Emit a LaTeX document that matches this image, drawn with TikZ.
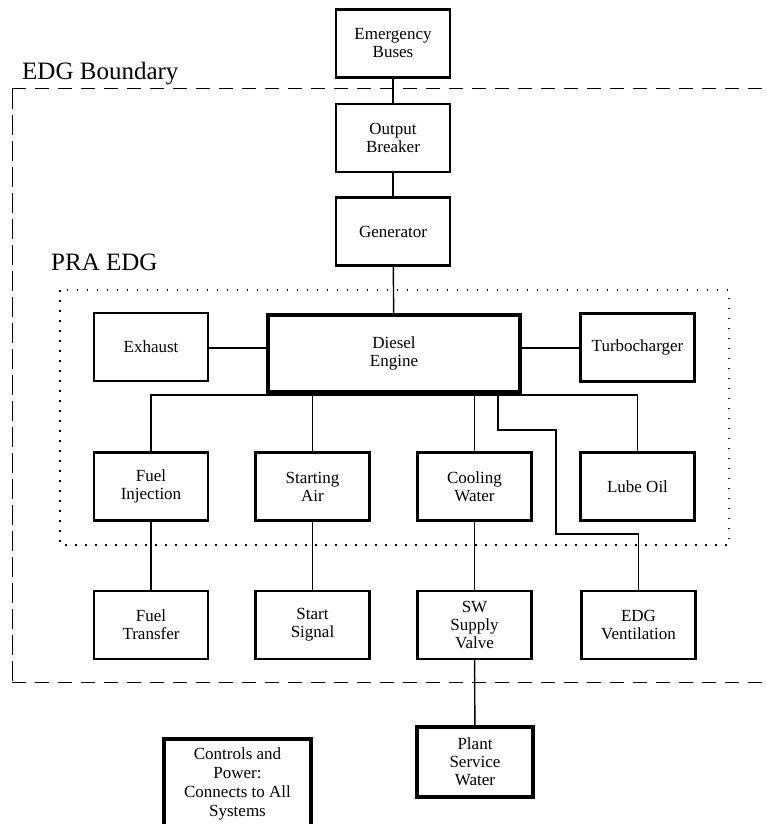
\documentclass[tikz,border=0pt]{standalone}
\usepackage{fontspec}
\setmainfont{Liberation Serif}
\begin{document}
\begin{tikzpicture}[x=1pt,y=-1pt,
  blk/.style={draw, line width=2.2pt, minimum width=114pt, minimum height=68pt, inner sep=0pt, align=center, font=\fontsize{17}{18}\selectfont},
  thk/.style={blk, line width=3.2pt},
  conn/.style={line width=1.4pt},
  bnd/.style={line width=1pt, dash pattern=on 14pt off 9pt},
  bndv/.style={line width=1pt, dash pattern=on 20pt off 6pt},
  pra/.style={line width=1.2pt, dash pattern=on 1.5pt off 8.5pt},
  lbl/.style={font=\fontsize{25}{28}\selectfont, anchor=base west, inner sep=0pt}]
\useasboundingbox (0,0) rectangle (767,824);
\clip (0,0) rectangle (767,824);
% boundaries
\draw[bnd] (12,89) -- (767,89);
\draw[bnd] (12,682) -- (767,682);
\draw[bndv] (12,89) -- (12,682);
\draw[pra] (60,290) rectangle (729,545);
\node[lbl] (lblEDG) at (22,80) {EDG Boundary};
\node[lbl] (lblPRA) at (51,270) {PRA EDG};
% nodes
\node[blk] (eb) at (393,43.5) {Emergency\\Buses};
\node[blk] (ob) at (393,138) {Output\\Breaker};
\node[blk] (gen) at (393,231.5) {Generator};
\node[thk, minimum width=252pt, minimum height=77pt] (de) at (394,353.5) {Diesel\\Engine};
\node[blk] (ex) at (151,347) {Exhaust};
\node[blk] (tc) at (637.5,347.5) {Turbocharger};
\node[blk] (fi) at (151,486.5) {Fuel\\Injection};
\node[blk] (sa) at (312.5,486.5) {Starting\\Air};
\node[blk] (cw) at (474.5,486.5) {Cooling\\Water};
\node[blk] (lo) at (637.5,486.5) {Lube Oil};
\node[blk] (ft) at (151,625) {Fuel\\Transfer};
\node[blk] (ss) at (312.5,625) {Start\\Signal};
\node[blk] (sv) at (474.5,625) {SW\\Supply\\Valve};
\node[blk] (ev) at (638.5,625) {EDG\\Ventilation};
\node[thk, minimum width=116pt, minimum height=70pt] (psw) at (475,762) {Plant\\Service\\Water};
\node[thk, minimum width=147pt, minimum height=90pt, font=\fontsize{17}{19}\selectfont] (ctl) at (237.5,784) {Controls and\\Power:\\Connects to All\\Systems};
% connectors
\draw[conn] (eb) -- (ob);
\draw[conn] (ob) -- (gen);
\draw[conn] (gen) -- (de);
\draw[conn] (ex.east |- 0,348) -- (de.west |- 0,348);
\draw[conn] (tc.west |- 0,348) -- (de.east |- 0,348);
\coordinate (bus) at (394,395);
\draw[conn] (fi.north) |- (bus) -| (lo.north);
\draw[conn] (sa.north) -- (sa.north |- bus);
\draw[conn] (cw.north) -- (cw.north |- bus);
\coordinate (vA) at (498,395);
\coordinate (vB) at (556,430);
\coordinate (vC) at (556,534);
\draw[conn] (vA) |- (vB) -- (vC) -| (ev.north);
\draw[conn] (fi) -- (ft);
\draw[conn] (sa) -- (ss);
\draw[conn] (cw) -- (sv);
\draw[conn] (sv) -- (psw);
\end{tikzpicture}
\end{document}
